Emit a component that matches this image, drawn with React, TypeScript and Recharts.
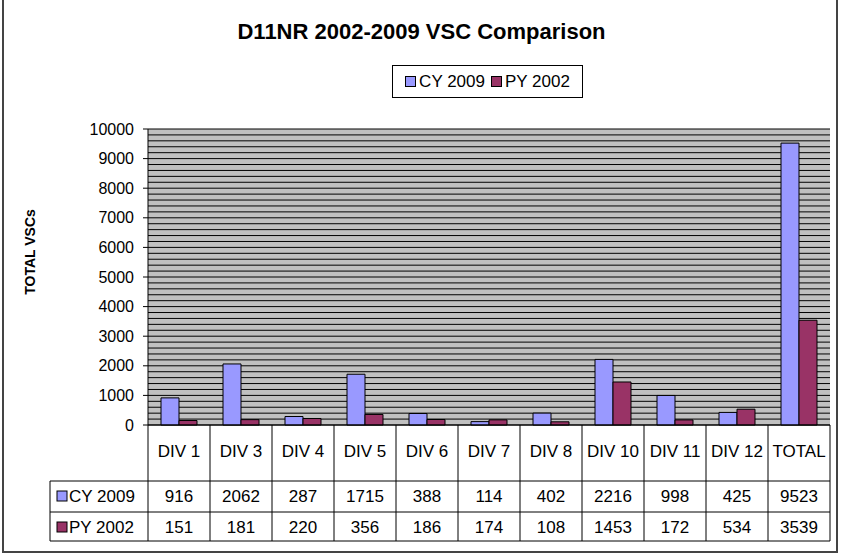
import React from 'react';
import { BarChart, Bar, XAxis, YAxis, CartesianGrid } from 'recharts';

const categories = ['DIV 1', 'DIV 3', 'DIV 4', 'DIV 5', 'DIV 6', 'DIV 7', 'DIV 8', 'DIV 10', 'DIV 11', 'DIV 12', 'TOTAL'];
const cy2009 = [916, 2062, 287, 1715, 388, 114, 402, 2216, 998, 425, 9523];
const py2002 = [151, 181, 220, 356, 186, 174, 108, 1453, 172, 534, 3539];
const yTicks = [0, 1000, 2000, 3000, 4000, 5000, 6000, 7000, 8000, 9000, 10000];
// minor grid every 200
const gridValues = Array.from({ length: 51 }, (_, i) => i * 200);

const series = [
    { key: 'cy', name: 'CY 2009', color: '#9999FF', values: cy2009 },
    { key: 'py', name: 'PY 2002', color: '#993366', values: py2002 },
];

const data = categories.map((name, i) => ({ name, cy: cy2009[i], py: py2002[i] }));

const FONT = '"Liberation Sans", Arial, sans-serif';
const W = 843;
const H = 558;
const PLOT_LEFT = 148;
const PLOT_RIGHT = 830;
const PLOT_TOP = 129;
const PLOT_BOTTOM = 425;
const ROW1 = 481;
const ROW2 = 512;
const TABLE_BOTTOM = 541;
const LABEL_LEFT = 50;
const COL_W = (PLOT_RIGHT - PLOT_LEFT) / categories.length;
const TABLE_FONT = 17;

const TableTick = (props: any) => {
    const { x, index, payload } = props;
    const left = x - COL_W / 2;
    const last = index === categories.length - 1;
    return (
        <g>
            <line x1={left} y1={PLOT_BOTTOM} x2={left} y2={TABLE_BOTTOM} stroke="#000" />
            {last && <line x1={left + COL_W} y1={PLOT_BOTTOM} x2={left + COL_W} y2={TABLE_BOTTOM} stroke="#000" />}
            <text x={x} y={457} textAnchor="middle" fontSize={TABLE_FONT} fontFamily={FONT} fill="#000">{payload.value}</text>
            {series.map((s, r) => (
                <text key={s.key} x={x} y={(r === 0 ? ROW1 : ROW2) + 21} textAnchor="middle" fontSize={TABLE_FONT} fontFamily={FONT} fill="#000">
                    {s.values[index]}
                </text>
            ))}
            {index === 0 && (
                <g>
                    {[ROW1, ROW2, TABLE_BOTTOM].map((yy) => (
                        <line key={yy} x1={LABEL_LEFT} y1={yy} x2={PLOT_RIGHT} y2={yy} stroke="#000" />
                    ))}
                    <line x1={LABEL_LEFT} y1={ROW1} x2={LABEL_LEFT} y2={TABLE_BOTTOM} stroke="#000" />
                    {series.map((s, r) => {
                        const top = r === 0 ? ROW1 : ROW2;
                        return (
                            <g key={s.key}>
                                <rect x={LABEL_LEFT + 7} y={top + 10} width={10} height={10} fill={s.color} stroke="#000" />
                                <text x={LABEL_LEFT + 19} y={top + 21} fontSize={TABLE_FONT} fontFamily={FONT} fill="#000">{s.name}</text>
                            </g>
                        );
                    })}
                </g>
            )}
        </g>
    );
};

export default function App() {
    return (
        <div style={{ position: 'absolute', left: 0, top: 0, width: W, height: H, background: '#fff', fontFamily: FONT, overflow: 'hidden' }}>
            <div style={{ position: 'absolute', left: 2, top: -2, width: 832, height: 551, border: '2px solid #444' }} />
            <div style={{ position: 'absolute', left: 0, top: 19, width: W, textAlign: 'center', fontSize: 22, fontWeight: 'bold', color: '#000' }}>
                D11NR 2002-2009 VSC Comparison
            </div>
            <div style={{ position: 'absolute', left: 392, top: 65, width: 189, height: 31, border: '1px solid #000', display: 'flex', alignItems: 'center', justifyContent: 'center', gap: 6, fontSize: 17 }}>
                {series.map((s) => (
                    <span key={s.key} style={{ display: 'flex', alignItems: 'center', gap: 3 }}>
                        <span style={{ display: 'inline-block', width: 9, height: 9, background: s.color, border: '1px solid #000' }} />
                        {s.name}
                    </span>
                ))}
            </div>
            <div style={{ position: 'absolute', left: 30 - 60, top: 252 - 10, width: 120, height: 20, lineHeight: '20px', textAlign: 'center', transform: 'rotate(-90deg)', fontSize: 14, fontWeight: 'bold' }}>
                TOTAL VSCs
            </div>
            <div style={{ position: 'absolute', left: 0, top: 0 }}>
                <BarChart
                    width={W}
                    height={H}
                    data={data}
                    margin={{ top: PLOT_TOP, right: W - PLOT_RIGHT, bottom: H - TABLE_BOTTOM, left: PLOT_LEFT - 70 }}
                    barCategoryGap={13}
                    barGap={0}
                >
                    <CartesianGrid fill="#C0C0C0" stroke="#000" vertical={false} horizontalValues={gridValues} />
                    <XAxis
                        dataKey="name"
                        height={TABLE_BOTTOM - PLOT_BOTTOM}
                        interval={0}
                        tickLine={false}
                        axisLine={{ stroke: '#000' }}
                        tick={<TableTick />}
                    />
                    <YAxis
                        width={70}
                        domain={[0, 10000]}
                        ticks={yTicks}
                        interval={0}
                        tickSize={5}
                        tickMargin={9}
                        axisLine={{ stroke: '#000' }}
                        tickLine={{ stroke: '#000' }}
                        tick={{ fontSize: 16, fill: '#000', fontFamily: FONT }}
                    />
                    {series.map((s) => (
                        <Bar key={s.key} dataKey={s.key} name={s.name} fill={s.color} stroke="#000" isAnimationActive={false} />
                    ))}
                </BarChart>
            </div>
        </div>
    );
}
